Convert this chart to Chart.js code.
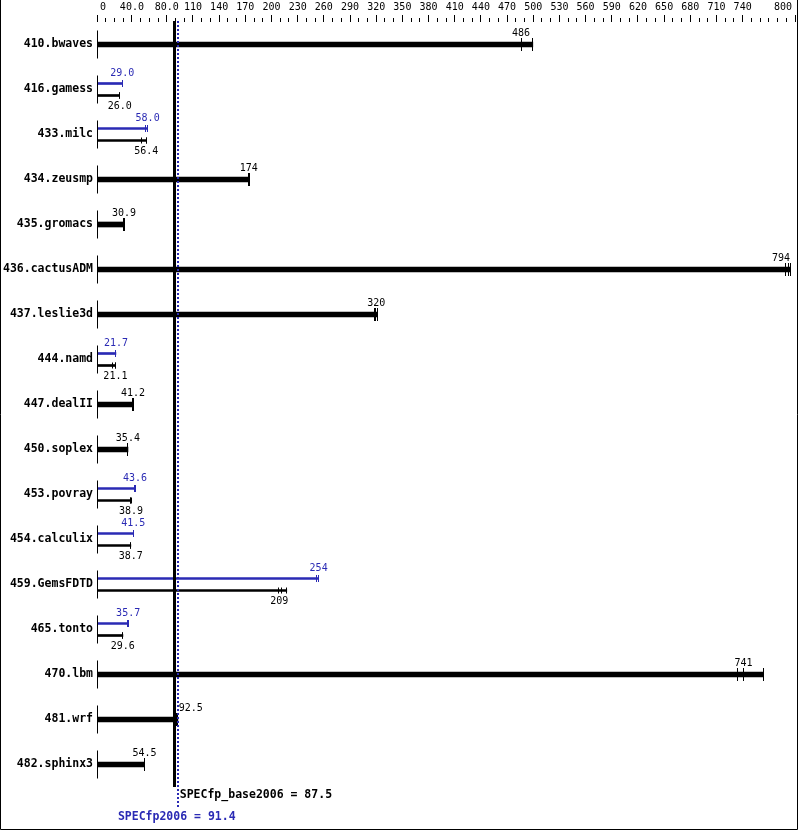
<!DOCTYPE html>
<html>
<head>
<meta charset="utf-8">
<script src="https://cdn.jsdelivr.net/npm/chart.js@4/dist/chart.umd.min.js"></script>
<style>
  html, body { margin: 0; padding: 0; background: #fff; }
  canvas { display: block; }
</style>
</head>
<body>
<canvas id="chart" width="799" height="831"></canvas>
<script>
// benchmarks, median scores and the three run values behind each bar
const benchmarks = ['410.bwaves', '416.gamess', '433.milc', '434.zeusmp', '435.gromacs', '436.cactusADM',
  '437.leslie3d', '444.namd', '447.dealII', '450.soplex', '453.povray', '454.calculix', '459.GemsFDTD',
  '465.tonto', '470.lbm', '481.wrf', '482.sphinx3'];

const baseScore = [486, 26.0, 56.4, 174, 30.9, 794, 320, 21.1, 41.2, 35.4, 38.9, 38.7, 209, 29.6, 741, 92.5, 54.5];
const peakScore = [null, 29.0, 58.0, null, null, null, null, 21.7, null, null, 43.6, 41.5, 254, 35.7, null, null, null];

const baseRuns = [
  [486, 486, 499.5], [25.9, 26.0, 26.0], [50.7, 56.4, 56.5], [173.5, 174, 174.5], [30.8, 30.9, 31.0],
  [789.5, 792, 795], [317.5, 319, 321], [18.2, 21.1, 21.2], [41.1, 41.2, 41.3], [35.3, 35.4, 35.5],
  [38.8, 38.9, 39.0], [38.6, 38.7, 38.8], [208.5, 211, 217.5], [29.5, 29.6, 29.7], [734, 741.5, 763.5],
  [91.3, 92.5, 92.7], [54.4, 54.5, 54.6],
];
const peakRuns = [
  null, [29.0, 29.0, 29.1], [55.3, 57.8, 58.0], null, null, null, null, [21.4, 21.7, 21.7], null, null,
  [43.5, 43.6, 43.7], [41.4, 41.5, 41.6], [251.5, 253.3, 254], [34.8, 35.7, 36.2], null, null, null,
];

const specBase = 87.5;
const specPeak = 91.4;

const tickLabelValues = [0, 40, 80, 110, 140, 170, 200, 230, 260, 290, 320, 350, 380, 410, 440, 470, 500,
  530, 560, 590, 620, 650, 680, 710, 740, 800];
const tickLabels = ['0', '40.0', '80.0', '110', '140', '170', '200', '230', '260', '290', '320', '350', '380',
  '410', '440', '470', '500', '530', '560', '590', '620', '650', '680', '710', '740', '800'];
const minorTickStep = 10;
const axisMax = 800;

const BLUE = '#2a2ab4';
const MONO = '"DejaVu Sans Mono", "Liberation Mono", monospace';

const maxOf = (arr) => (arr ? Math.max(...arr) : null);
const fmt = (v) => (v >= 100 ? v.toFixed(0) : v.toFixed(1));

// single rows (no separate peak) get one thick bar, the rest a blue/black pair
const singleData = benchmarks.map((b, i) => (peakScore[i] == null ? maxOf(baseRuns[i]) : null));
const peakData = benchmarks.map((b, i) => (peakScore[i] == null ? null : maxOf(peakRuns[i])));
const pairBaseData = benchmarks.map((b, i) => (peakScore[i] == null ? null : maxOf(baseRuns[i])));

function vline(ctx, x, y1, y2) {
  const px = Math.floor(x) + 0.5;
  ctx.beginPath();
  ctx.moveTo(px, y1);
  ctx.lineTo(px, y2);
  ctx.stroke();
}

const specDecor = {
  id: 'specDecor',
  afterDatasetsDraw(chart) {
    const ctx = chart.ctx;
    const xs = chart.scales.x;
    const ys = chart.scales.y;
    const area = chart.chartArea;
    const baseX = xs.getPixelForValue(specBase);
    const peakX = xs.getPixelForValue(specPeak);
    ctx.save();

    // top axis
    ctx.strokeStyle = '#000';
    ctx.lineWidth = 1;
    for (let v = 0; v <= axisMax; v += minorTickStep) {
      const major = tickLabelValues.includes(v);
      vline(ctx, xs.getPixelForValue(v), major ? 15 : 18, 22);
    }
    ctx.fillStyle = '#000';
    ctx.font = '10px ' + MONO;
    ctx.textBaseline = 'middle';
    ctx.textAlign = 'left';
    tickLabels.forEach((t, i) => {
      const w = ctx.measureText(t).width;
      let left = xs.getPixelForValue(tickLabelValues[i]) - w / 2;
      left = Math.max(left, area.left + 3);
      left = Math.min(left, area.right - 3 - w);
      ctx.fillText(t, left, 7);
    });

    // benchmark names and zero lines
    ctx.font = 'bold 11.5px ' + MONO;
    ctx.textAlign = 'right';
    const zeroX = xs.getPixelForValue(0);
    benchmarks.forEach((b, i) => {
      const cy = ys.getPixelForValue(i);
      ctx.fillStyle = '#000';
      ctx.fillText(b, 93, cy);
      vline(ctx, zeroX, cy - 14, cy + 14);
    });

    // run ticks and value labels
    const labelBox = (txt, cx) => {
      const w = ctx.measureText(txt).width;
      let left = cx - w / 2;
      if (left < peakX + 2 && left + w > baseX - 3) left = peakX + 2;
      left = Math.min(left, area.right - 5 - w);
      return left;
    };
    const drawRow = (meta, runs, score, color, half, labelDy) => {
      benchmarks.forEach((b, i) => {
        const el = meta.data[i];
        if (!runs[i] || el == null || Number.isNaN(el.y) || (meta.index === 0 && peakScore[i] != null)) return;
        if (meta.index !== 0 && peakScore[i] == null) return;
        ctx.strokeStyle = color;
        ctx.lineWidth = 1;
        runs[i].forEach((v) => vline(ctx, xs.getPixelForValue(v), el.y - half, el.y + half));
        ctx.fillStyle = color;
        ctx.font = '10px ' + MONO;
        ctx.textAlign = 'left';
        const txt = fmt(score[i]);
        ctx.fillText(txt, labelBox(txt, xs.getPixelForValue(score[i])), el.y + labelDy);
      });
    };
    drawRow(chart.getDatasetMeta(0), baseRuns, baseScore, '#000', 6.5, -11.5);
    drawRow(chart.getDatasetMeta(1), peakRuns, peakScore, BLUE, 3.5, -10.5);
    drawRow(chart.getDatasetMeta(2), baseRuns, baseScore, '#000', 3, 11);

    // overall score lines
    ctx.strokeStyle = '#000';
    ctx.lineWidth = 3;
    ctx.beginPath();
    ctx.moveTo(Math.round(baseX) + 1.5, 21);
    ctx.lineTo(Math.round(baseX) + 1.5, 787);
    ctx.stroke();
    ctx.strokeStyle = BLUE;
    ctx.lineWidth = 2;
    ctx.setLineDash([2, 2]);
    ctx.beginPath();
    ctx.moveTo(Math.round(peakX) + 1, 21);
    ctx.lineTo(Math.round(peakX) + 1, 808);
    ctx.stroke();
    ctx.setLineDash([]);

    ctx.font = 'bold 11.5px ' + MONO;
    ctx.fillStyle = '#000';
    ctx.textAlign = 'left';
    ctx.fillText('SPECfp_base2006 = ' + specBase.toFixed(1), peakX + 3, 795);
    ctx.fillStyle = BLUE;
    ctx.textAlign = 'center';
    ctx.fillText('SPECfp2006 = ' + specPeak.toFixed(1), peakX, 817);

    // frame
    ctx.strokeStyle = '#000';
    ctx.lineWidth = 1;
    ctx.beginPath();
    ctx.moveTo(0.5, 0);
    ctx.lineTo(0.5, 829.5);
    ctx.lineTo(797.5, 829.5);
    ctx.lineTo(797.5, 0);
    ctx.stroke();
    ctx.restore();
  },
};

new Chart(document.getElementById('chart'), {
  type: 'bar',
  data: {
    labels: benchmarks,
    datasets: [
      { label: 'base=peak', data: singleData, backgroundColor: '#000', barThickness: 5 },
      { label: 'peak', data: peakData, backgroundColor: BLUE, barThickness: 12, maxBarThickness: 2 },
      { label: 'base', data: pairBaseData, backgroundColor: '#000', barThickness: 12, maxBarThickness: 2 },
    ],
  },
  options: {
    indexAxis: 'y',
    responsive: false,
    animation: false,
    events: [],
    datasets: { bar: { skipNull: true, borderWidth: 0, borderSkipped: false } },
    layout: { padding: { left: 97, right: 4, top: 22, bottom: 44 } },
    plugins: { legend: { display: false }, tooltip: { enabled: false } },
    scales: {
      x: { type: 'linear', min: 0, max: axisMax, display: false },
      y: { type: 'category', display: false, offset: true },
    },
  },
  plugins: [specDecor],
});
</script>
</body>
</html>
